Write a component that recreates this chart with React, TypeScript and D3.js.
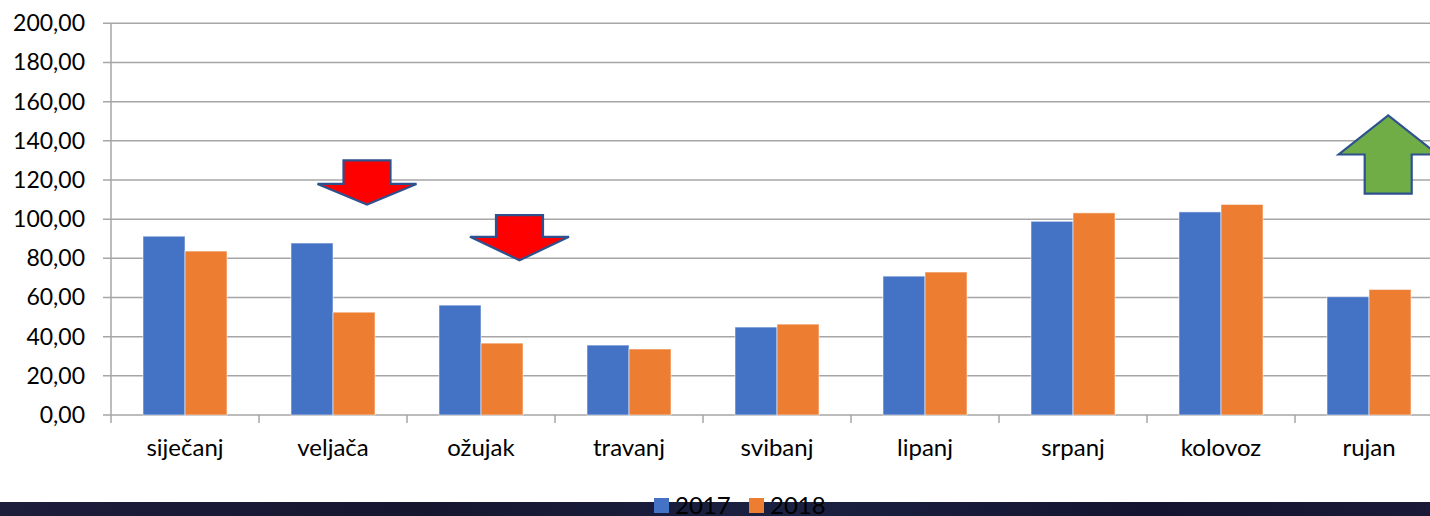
import React from "react";
import * as d3 from "d3";

const categories = ["siječanj", "veljača", "ožujak", "travanj", "svibanj", "lipanj", "srpanj", "kolovoz", "rujan"];
const values2017 = [91.3, 87.8, 56.1, 35.7, 44.9, 70.9, 98.9, 103.7, 60.4];
const values2018 = [83.7, 52.5, 36.7, 33.7, 46.4, 73.0, 103.2, 107.5, 64.1];
const seriesNames = ["2017", "2018"];
const seriesColors = ["#4472c4", "#ed7d31"];
const yTicks = [0, 20, 40, 60, 80, 100, 120, 140, 160, 180, 200];

// annotation arrows: category position (in bands), shaft top value, head base value, tip value
const arrows = [
  { pos: 1.73, shaftTop: 130, headBase: 118, tip: 107.5, color: "#ff0000" },
  { pos: 2.76, shaftTop: 102, headBase: 91, tip: 79, color: "#ff0000" },
  { pos: 8.63, shaftTop: 113, headBase: 133, tip: 153, color: "#70ad47" },
];

const W = 1430;
const H = 516;
const left = 111;
const bandW = 148;
const top = 23.3;
const bottom = 415;

export default function App() {
  const x = d3
    .scaleBand<string>()
    .domain(categories)
    .range([left, left + bandW * categories.length])
    .paddingInner(0)
    .paddingOuter(0);
  const y = d3.scaleLinear().domain([0, 200]).range([bottom, top]);
  const inner = d3.scaleBand<string>().domain(seriesNames).range([32, bandW - 32]);
  const series = [values2017, values2018];
  const font = "Lato, 'Open Sans', sans-serif";

  const arrowPath = (a: typeof arrows[0]) => {
    const cx = left + bandW * a.pos;
    const shaftHalf = 23.5;
    const headHalf = 49.5;
    const yt = y(a.shaftTop);
    const yh = y(a.headBase);
    const yp = y(a.tip);
    return (
      [
        [cx - shaftHalf, yt],
        [cx + shaftHalf, yt],
        [cx + shaftHalf, yh],
        [cx + headHalf, yh],
        [cx, yp],
        [cx - headHalf, yh],
        [cx - shaftHalf, yh],
      ]
        .map((p, i) => (i === 0 ? "M" : "L") + p[0].toFixed(1) + "," + p[1].toFixed(1))
        .join("") + "Z"
    );
  };

  return (
    <div style={{ position: "fixed", left: 0, top: 0, width: W, height: H, background: "#fff" }}>
      <svg width={W} height={H} style={{ display: "block" }}>
        <defs>
          <linearGradient id="band" x1="0" x2="1" y1="0" y2="0">
            <stop offset="0" stopColor="#1d1d3c" />
            <stop offset="0.3" stopColor="#16162f" />
            <stop offset="0.55" stopColor="#1b2142" />
            <stop offset="0.8" stopColor="#141430" />
            <stop offset="1" stopColor="#1a1a38" />
          </linearGradient>
        </defs>
        <rect x={0} y={0} width={W} height={H} fill="#ffffff" />
        {yTicks.map((t) => (
          <line key={"g" + t} x1={left - 8} x2={W} y1={y(t)} y2={y(t)} stroke="#a6a6a6" strokeWidth={1.5} />
        ))}
        <line x1={left} x2={left} y1={top} y2={bottom + 8} stroke="#a6a6a6" strokeWidth={1.5} />
        {categories.map((c) => (
          <line
            key={"t" + c}
            x1={(x(c) as number) + bandW}
            x2={(x(c) as number) + bandW}
            y1={bottom}
            y2={bottom + 8}
            stroke="#a6a6a6"
            strokeWidth={1.5}
          />
        ))}
        {yTicks.map((t) => (
          <text key={"l" + t} x={85} y={y(t) + 8} textAnchor="end" fontFamily={font} fontSize={23} fill="#000">
            {t.toFixed(2).replace(".", ",")}
          </text>
        ))}
        {series.map((vals, si) =>
          categories.map((c, i) => (
            <rect
              key={si + "-" + c}
              x={(x(c) as number) + (inner(seriesNames[si]) as number)}
              y={y(vals[i])}
              width={inner.bandwidth()}
              height={bottom - y(vals[i])}
              fill={seriesColors[si]}
              stroke="rgba(255,255,255,0.55)"
              strokeWidth={1}
            />
          ))
        )}
        {categories.map((c) => (
          <text
            key={"x" + c}
            x={(x(c) as number) + bandW / 2}
            y={456}
            textAnchor="middle"
            fontFamily={font}
            fontSize={24}
            fill="#000"
          >
            {c}
          </text>
        ))}
        {arrows.map((a, i) => (
          <path key={"a" + i} d={arrowPath(a)} fill={a.color} stroke="#2f528f" strokeWidth={2.2} />
        ))}
        <rect x={0} y={502} width={W} height={H - 502} fill="url(#band)" />
        {seriesNames.map((s, i) => (
          <g key={"lg" + s} transform={`translate(${654 + i * 95},0)`}>
            <rect x={0} y={498} width={15} height={15} fill={seriesColors[i]} />
            <text x={21} y={514} fontFamily={font} fontSize={24} fill="#000">
              {s}
            </text>
          </g>
        ))}
      </svg>
    </div>
  );
}
